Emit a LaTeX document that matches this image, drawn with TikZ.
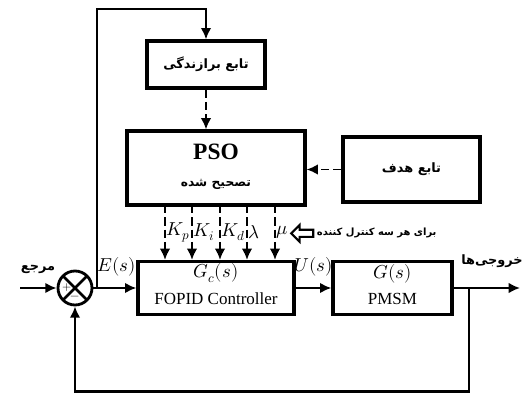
\documentclass[tikz,border=0pt]{standalone}
\usepackage{amsmath}
\usepackage{fontspec}
\usepackage{unicode-math}
\setmainfont{Liberation Serif}
\setmathfont{Latin Modern Math}
\newfontfamily\farsifont[Script=Arabic]{DejaVu Sans}
\TeXXeTstate=1
\usepackage{tikz}
\usetikzlibrary{arrows.meta}
\usetikzlibrary{shapes.arrows}

\newcommand{\fatext}[1]{{\farsifont\bfseries\beginR #1\endR}}

\tikzset{
  blk/.style={draw=black, line width=2.8pt, rectangle, align=center, inner sep=0pt},
  arr/.style={-{Latex[length=3.4mm,width=3.2mm]}, line width=2.4pt},
  darr/.style={-{Latex[length=3.4mm,width=3.2mm]}, line width=1.7pt, dash pattern=on 7pt off 3.5pt}
}

\begin{document}
\begin{tikzpicture}

\useasboundingbox (0,0) rectangle (15.69,11.82);

%% blocks

\node[blk, minimum width=3.54cm, minimum height=1.41cm] (fit) at (6.18,9.885) {\fontsize{11}{13}\selectfont\fatext{تابع برازندگی}};
\node[blk, minimum width=5.34cm, minimum height=2.22cm] (pso) at (6.48,6.78) {};
\node[font=\fontsize{20}{22}\selectfont\bfseries] (psot) at (6.48,7.25) {PSO};
\node[font=\fontsize{10.5}{12}\selectfont] (psos) at (6.48,6.3) {\fatext{تصحیح شده}};
\node[blk, minimum width=4.11cm, minimum height=1.95cm] (obj) at (12.345,6.735) {\fontsize{11}{13}\selectfont\fatext{تابع هدف}};

\node[blk, minimum width=4.68cm, minimum height=1.59cm] (ctrl) at (6.48,3.18) {};
\node[font=\fontsize{16}{18}\selectfont] (ctrlg) at (6.48,3.62) {$G_c(s)$};
\node[font=\fontsize{14.5}{16}\selectfont] (ctrlt) at (6.48,2.85) {FOPID Controller};

\node[blk, minimum width=3.57cm, minimum height=1.59cm] (plant) at (11.775,3.18) {};
\node[font=\fontsize{16}{18}\selectfont] (plantg) at (11.775,3.62) {$G(s)$};
\node[font=\fontsize{14.5}{16}\selectfont] (plantt) at (11.775,2.85) {PMSM};

%% summing junction

\node[shape=circle, draw=black, line width=2.4pt, minimum size=1.02cm, inner sep=0pt,
  path picture={\draw[line width=2.2pt] (path picture bounding box.north west) -- (path picture bounding box.south east)
  (path picture bounding box.north east) -- (path picture bounding box.south west);}] (sum) at (2.25,3.18) {};
\node[font=\fontsize{10}{10}\selectfont] (plus) at (2.0,3.18) {$+$};
\node[font=\fontsize{10}{10}\selectfont] (minus) at (2.25,2.88) {$-$};

%% coordinates

\coordinate (in) at (0.6,3.18);
\coordinate (tap) at (2.91,3.18);
\coordinate (top) at (6.18,11.55);
\coordinate (br) at (14.07,3.18);
\coordinate (out) at (15.6,3.18);
\coordinate (bot) at (14.07,0.08);

%% labels

\node[font=\fontsize{11}{13}\selectfont] (ref) at (1.14,3.75) {\fatext{مرجع}};
\node[font=\fontsize{16}{18}\selectfont] (es) at (3.5,3.82) {$E(s)$};
\node[font=\fontsize{16}{18}\selectfont] (us) at (9.4,3.82) {$U(s)$};
\node[font=\fontsize{11}{13}\selectfont] (outl) at (14.76,3.98) {\fatext{خروجی‌ها}};

%% main lines

\draw[arr] (in) -- (sum.west);
\draw[arr] (sum.east) -- (ctrl.west);
\draw[arr] (ctrl.east) -- (plant.west);
\draw[arr] (plant.east) -- (out);
\draw[arr] (br) -- (bot) -| (sum.south);
\draw[arr] (tap) |- (top) -- (fit.north);

%% dashed lines

\draw[darr] (fit.south) -- (fit.south |- pso.north);
\draw[darr] (obj.west) -- (obj.west -| pso.east);

\foreach \x/\lab [count=\i] in {4.95/K_p, 5.76/K_i, 6.6/K_d, 7.41/\lambda, 8.25/\mu}{
  \coordinate (p\i) at (\x,5.67);
  \draw[darr] (p\i) -- (p\i |- ctrl.north);
  \node[anchor=west, inner sep=1pt, font=\fontsize{16}{18}\selectfont] (l\i) at (\x,4.85) {$\lab$};
}

%% hollow arrow

\node[single arrow, draw=black, line width=1.8pt, shape border rotate=180, minimum height=0.66cm,
  minimum width=0.5cm, single arrow head extend=0.09cm, inner sep=1pt] (harr) at (9.12,4.82) {};
\node[anchor=west, inner sep=0pt, font=\fontsize{8.5}{10}\selectfont] (harrt) at (9.5,4.82) {\fatext{برای هر سه کنترل کننده}};

\end{tikzpicture}
\end{document}
